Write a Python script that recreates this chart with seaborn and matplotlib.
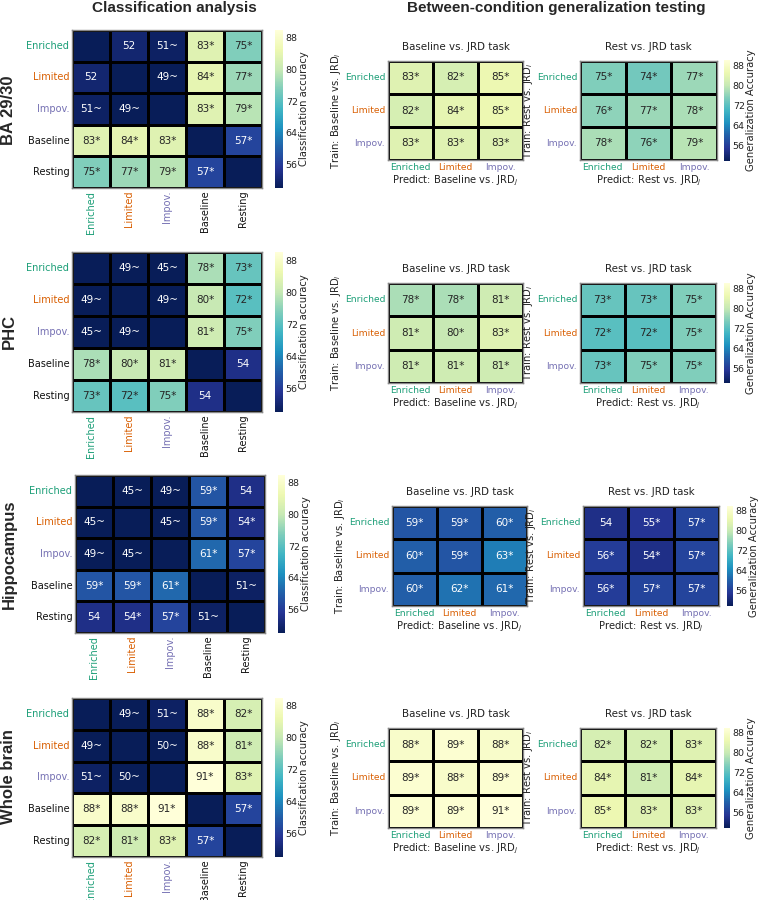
import numpy as np
import pandas as pd
import matplotlib
matplotlib.use("Agg")
import matplotlib.pyplot as plt
import seaborn as sns

sns.set_style("white")
plt.rcParams["font.family"] = ["DejaVu Sans"]

# ---------------- data ----------------
conds5 = ["Enriched", "Limited", "Impov.", "Baseline", "Resting"]
conds3 = ["Enriched", "Limited", "Impov."]
regions = ["BA 29/30", "PHC", "Hippocampus", "Whole brain"]
N = np.nan

ba_class = [[N, 52, 51, 83, 75], [52, N, 49, 84, 77], [51, 49, N, 83, 79],
            [83, 84, 83, N, 57], [75, 77, 79, 57, N]]
ba_class_sig = [["", "", "~", "*", "*"], ["", "", "~", "*", "*"], ["~", "~", "", "*", "*"],
                ["*", "*", "*", "", "*"], ["*", "*", "*", "*", ""]]
ba_base = [[83, 82, 85], [82, 84, 85], [83, 83, 83]]
ba_base_sig = [["*"] * 3] * 3
ba_rest = [[75, 74, 77], [76, 77, 78], [78, 76, 79]]
ba_rest_sig = [["*"] * 3] * 3

phc_class = [[N, 49, 45, 78, 73], [49, N, 49, 80, 72], [45, 49, N, 81, 75],
             [78, 80, 81, N, 54], [73, 72, 75, 54, N]]
phc_class_sig = [["", "~", "~", "*", "*"], ["~", "", "~", "*", "*"], ["~", "~", "", "*", "*"],
                 ["*", "*", "*", "", ""], ["*", "*", "*", "", ""]]
phc_base = [[78, 78, 81], [81, 80, 83], [81, 81, 81]]
phc_base_sig = [["*"] * 3] * 3
phc_rest = [[73, 73, 75], [72, 72, 75], [73, 75, 75]]
phc_rest_sig = [["*"] * 3] * 3

hip_class = [[N, 45, 49, 59, 54], [45, N, 45, 59, 54], [49, 45, N, 61, 57],
             [59, 59, 61, N, 51], [54, 54, 57, 51, N]]
hip_class_sig = [["", "~", "~", "*", ""], ["~", "", "~", "*", "*"], ["~", "~", "", "*", "*"],
                 ["*", "*", "*", "", "~"], ["", "*", "*", "~", ""]]
hip_base = [[59, 59, 60], [60, 59, 63], [60, 62, 61]]
hip_base_sig = [["*"] * 3] * 3
hip_rest = [[54, 55, 57], [56, 54, 57], [56, 57, 57]]
hip_rest_sig = [["", "*", "*"], ["*", "*", "*"], ["*", "*", "*"]]

wb_class = [[N, 49, 51, 88, 82], [49, N, 50, 88, 81], [51, 50, N, 91, 83],
            [88, 88, 91, N, 57], [82, 81, 83, 57, N]]
wb_class_sig = [["", "~", "~", "*", "*"], ["~", "", "~", "*", "*"], ["~", "~", "", "*", "*"],
                ["*", "*", "*", "", "*"], ["*", "*", "*", "*", ""]]
wb_base = [[88, 89, 88], [89, 88, 89], [89, 89, 91]]
wb_base_sig = [["*"] * 3] * 3
wb_rest = [[82, 82, 83], [84, 81, 84], [85, 83, 83]]
wb_rest_sig = [["*"] * 3] * 3

cbar_ticks = [56, 64, 72, 80, 88]

# ---------------- styles ----------------
W, H = 758, 900
cond_colors = {"Enriched": "#1b9e77", "Limited": "#d95f02", "Impov.": "#7570b3",
               "Baseline": "#111111", "Resting": "#111111"}
CMAP = "YlGnBu_r"
VMIN, VMAX = 50, 90
TXT = "#222222"

fig = plt.figure(figsize=(W / 100, H / 100), dpi=100)


def px_axes(x0, y0, x1, y1):
    return fig.add_axes([x0 / W, 1 - y1 / H, (x1 - x0) / W, (y1 - y0) / H])


def draw(ax, cax, vals, sig, labels, rot_x, cbar_label, tick_fs):
    arr = np.array(vals, dtype=float)
    annot = np.array([["" if np.isnan(v) else f"{int(v)}{s}" for v, s in zip(rv, rs)]
                      for rv, rs in zip(arr, sig)])
    df = pd.DataFrame(arr, index=labels, columns=labels)
    sns.heatmap(df, ax=ax, cmap=CMAP, vmin=VMIN, vmax=VMAX, annot=annot, fmt="",
                linewidths=1.8, linecolor="black", cbar=cax is not None, cbar_ax=cax,
                annot_kws={"size": 7.5},
                cbar_kws={"ticks": cbar_ticks} if cax is not None else None)
    ax.set_facecolor(plt.get_cmap(CMAP)(0.0))
    for sp in ax.spines.values():
        sp.set_visible(True)
        sp.set_color("#888888")
        sp.set_linewidth(1.0)
    ax.tick_params(length=0, pad=2)
    ax.set_xticklabels(labels, rotation=rot_x, fontsize=tick_fs)
    ax.set_yticklabels(labels, rotation=0, fontsize=tick_fs)
    for t in ax.get_xticklabels():
        t.set_color(cond_colors[t.get_text()])
    for t in ax.get_yticklabels():
        t.set_color(cond_colors[t.get_text()])
    if cax is not None:
        cax.tick_params(labelsize=6.8, length=0, pad=2, labelcolor=TXT)
        cax.set_ylabel(cbar_label, fontsize=7.2, color=TXT, labelpad=1)
        ax.collections[0].colorbar.outline.set_visible(False)


rows = [
    (ba_class, ba_class_sig, ba_base, ba_base_sig, ba_rest, ba_rest_sig),
    (phc_class, phc_class_sig, phc_base, phc_base_sig, phc_rest, phc_rest_sig),
    (hip_class, hip_class_sig, hip_base, hip_base_sig, hip_rest, hip_rest_sig),
    (wb_class, wb_class_sig, wb_base, wb_base_sig, wb_rest, wb_rest_sig),
]

# pixel layout per row: left matrix, left cbar, mid, right, right cbar, row-label y
layout = [
    dict(L=(72, 30, 262, 188), LC=(275, 30, 283, 188), M=(388, 61, 523, 160),
         R=(580, 61, 717, 160), RC=(724, 60, 730, 161), rl=110),
    dict(L=(72, 252, 262, 412), LC=(275, 252, 283, 412), M=(388, 283, 523, 383),
         R=(580, 283, 716, 383), RC=(724, 283, 730, 383), rl=332),
    dict(L=(75, 475, 265, 633), LC=(278, 475, 285, 633), M=(392, 506, 527, 606),
         R=(583, 506, 719, 606), RC=(727, 506, 733, 606), rl=554),
    dict(L=(72, 698, 262, 857), LC=(275, 698, 283, 857), M=(388, 728, 523, 828),
         R=(580, 728, 716, 828), RC=(724, 728, 730, 828), rl=777),
]

for (cls, cls_s, base, base_s, rest, rest_s), lay, reg in zip(rows, layout, regions):
    axL = px_axes(*lay["L"])
    caxL = px_axes(*lay["LC"])
    draw(axL, caxL, cls, cls_s, conds5, 90, "Classification accuracy", 7)

    axM = px_axes(*lay["M"])
    axR = px_axes(*lay["R"])
    caxR = px_axes(*lay["RC"])
    draw(axM, None, base, base_s, conds3, 0, None, 6.6)
    draw(axR, caxR, rest, rest_s, conds3, 0, "Generalization Accuracy", 6.6)

    for ax, ttl, xl, yl in [(axM, "Baseline vs. JRD task", r"Predict: Baseline vs. JRD$_j$",
                             r"Train: Baseline vs. JRD$_i$"),
                            (axR, "Rest vs. JRD task", r"Predict: Rest vs. JRD$_j$",
                             r"Train: Rest vs. JRD$_i$")]:
        ax.set_title(ttl, fontsize=7.4, color=TXT, pad=8)
        ax.set_xlabel(xl, fontsize=7.2, color=TXT, labelpad=1)
        ax.set_ylabel(yl, fontsize=7.2, color=TXT, labelpad=1)

    fig.text(9 / W, 1 - lay["rl"] / H, reg, rotation=90, ha="center", va="center",
             fontsize=12, fontweight="bold", family="Liberation Sans")

fig.text(174 / W, 1 - 8 / H, "Classification analysis", ha="center", va="center",
         fontsize=11, fontweight="bold", family="Liberation Sans")
fig.text(556 / W, 1 - 8 / H, "Between-condition generalization testing", ha="center",
         va="center", fontsize=11, fontweight="bold", family="Liberation Sans")

fig.savefig("out.png", dpi=100, facecolor="white")
